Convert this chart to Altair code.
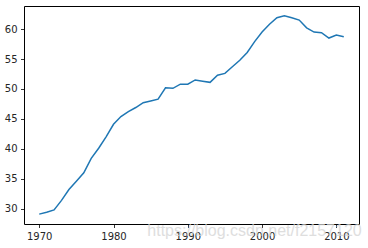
import altair as alt
import pandas as pd

years = list(range(1970, 2012))
values = [29.1, 29.4, 29.8, 31.4, 33.2, 34.6, 36.0, 38.4, 40.1, 42.0,
          44.1, 45.4, 46.2, 46.9, 47.7, 48.0, 48.3, 50.2, 50.1, 50.8,
          50.8, 51.5, 51.3, 51.1, 52.3, 52.6, 53.7, 54.8, 56.1, 57.9,
          59.5, 60.8, 61.9, 62.2, 61.9, 61.5, 60.2, 59.5, 59.4, 58.5,
          59.0, 58.7]
x_ticks = [1970, 1980, 1990, 2000, 2010]
y_ticks = [30, 35, 40, 45, 50, 55, 60]
watermark = ["https://blog.csdn.net/f2157120"]

df = pd.DataFrame({"year": years, "value": values})

axis_common = dict(
    grid=False,
    domain=False,
    tickColor="black",
    tickSize=3.5,
    tickWidth=0.8,
    labelPadding=3.5,
    labelFont="DejaVu Sans",
    labelFontSize=10,
    labelColor="#262626",
    title=None,
)

line = alt.Chart(df).mark_line(color="#1f77b4", strokeWidth=1.5, clip=True).encode(
    x=alt.X("year:Q", scale=alt.Scale(domain=[1967.95, 2013.05], nice=False, zero=False),
            axis=alt.Axis(values=x_ticks, format="d", **axis_common)),
    y=alt.Y("value:Q", scale=alt.Scale(domain=[27.45, 63.85], nice=False, zero=False),
            axis=alt.Axis(values=y_ticks, format="d", **axis_common)),
)

wm = alt.Chart(pd.DataFrame({"t": watermark})).mark_text(
    font="Liberation Sans", fontSize=16, color="#d4d4d4", opacity=0.75,
    align="left", baseline="alphabetic"
).encode(
    text="t:N",
    x=alt.value(123.3),
    y=alt.value(229.7),
)

chart = alt.layer(line, wm).properties(
    width=335, height=218,
    padding={"left": 24, "top": 6, "right": 9, "bottom": 24},
    autosize=alt.AutoSizeParams(type="none"),
    background="white",
).configure_view(
    stroke="black", strokeWidth=1,
)

chart.save("out.html", embed_options={"renderer": "svg", "actions": False})
